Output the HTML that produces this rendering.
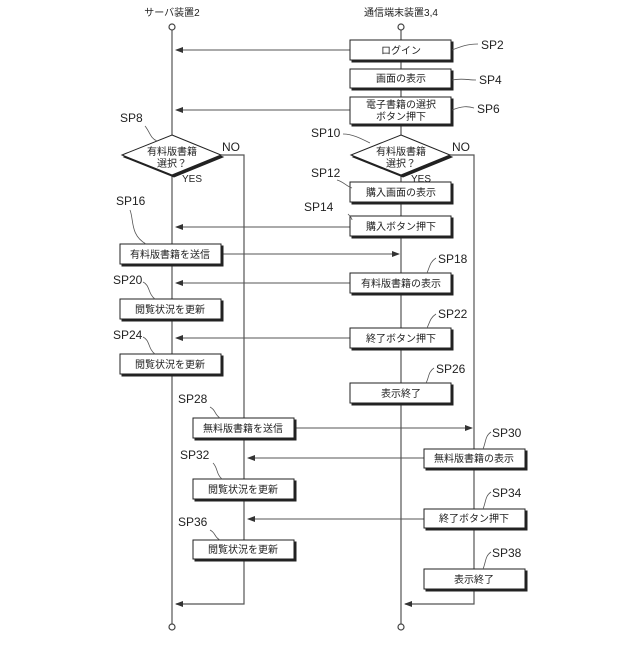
<!DOCTYPE html>
<html><head><meta charset="utf-8"><style>
body{margin:0;background:#fff}
svg text{font-family:"Liberation Sans","Noto Sans CJK JP",sans-serif;fill:#222}
</style></head><body>
<svg width="640" height="640" viewBox="0 0 640 640" xmlns="http://www.w3.org/2000/svg">
<defs>
<marker id="a" markerWidth="8" markerHeight="6" refX="7" refY="3" orient="auto" markerUnits="userSpaceOnUse"><path d="M0,0 L8,3 L0,6 z" fill="#333"/></marker>
</defs>
<g stroke="#555" stroke-width="1.2" fill="none">
<line x1="172" y1="30" x2="172" y2="624"/>
<line x1="401" y1="30" x2="401" y2="624"/>
<polyline points="221,155 244,155 244,604 176,604" marker-end="url(#a)"/>
<polyline points="450,155 474,155 474,604 405,604" marker-end="url(#a)"/>
</g>
<g stroke="#555" stroke-width="1" fill="none" marker-end="url(#a)">
<line x1="350" y1="50" x2="176" y2="50"/>
<line x1="350" y1="110" x2="176" y2="110"/>
<line x1="350" y1="227" x2="176" y2="227"/>
<line x1="222" y1="254" x2="399" y2="254"/>
<line x1="350" y1="283" x2="176" y2="283"/>
<line x1="350" y1="338" x2="176" y2="338"/>
<line x1="295" y1="428" x2="472" y2="428"/>
<line x1="424" y1="458" x2="248" y2="458"/>
<line x1="424" y1="519" x2="248" y2="519"/>
</g>
<g fill="#fff" stroke="#444" stroke-width="1.2">
<circle cx="172" cy="27" r="3"/><circle cx="401" cy="27" r="3"/>
<circle cx="172" cy="627" r="3"/><circle cx="401" cy="627" r="3"/>
</g>
<g stroke="#222" stroke-width="1" fill="#fff" style="filter:drop-shadow(2px 2px 0 #222)">
<rect x="350" y="40" width="101" height="20"/>
<rect x="350" y="69" width="101" height="19"/>
<rect x="350" y="97" width="101" height="27"/>
<polygon points="172,135 221,155 172,175 122,155"/>
<polygon points="401,135 450,155 401,175 351,155"/>
<rect x="350" y="182" width="101" height="20"/>
<rect x="350" y="216" width="101" height="20"/>
<rect x="120" y="244" width="101" height="20"/>
<rect x="350" y="273" width="101" height="20"/>
<rect x="120" y="299" width="101" height="20"/>
<rect x="350" y="328" width="101" height="20"/>
<rect x="120" y="354" width="101" height="20"/>
<rect x="350" y="383" width="101" height="20"/>
<rect x="193" y="418" width="101" height="20"/>
<rect x="424" y="449" width="101" height="19"/>
<rect x="193" y="479" width="101" height="20"/>
<rect x="424" y="509" width="101" height="19"/>
<rect x="193" y="540" width="101" height="19"/>
<rect x="424" y="569" width="101" height="20"/>
</g>
<g font-size="10" text-anchor="middle">
<text x="172" y="16">サーバ装置2</text>
<text x="401" y="16">通信端末装置3,4</text>
<text x="401" y="54">ログイン</text>
<text x="401" y="82">画面の表示</text>
<text x="401" y="108">電子書籍の選択</text>
<text x="401" y="120">ボタン押下</text>
<text x="172" y="155">有料版書籍</text>
<text x="172" y="167">選択？</text>
<text x="401" y="155">有料版書籍</text>
<text x="401" y="167">選択？</text>
<text x="401" y="196">購入画面の表示</text>
<text x="401" y="230">購入ボタン押下</text>
<text x="170" y="258">有料版書籍を送信</text>
<text x="401" y="287">有料版書籍の表示</text>
<text x="170" y="313">閲覧状況を更新</text>
<text x="401" y="342">終了ボタン押下</text>
<text x="170" y="368">閲覧状況を更新</text>
<text x="401" y="397">表示終了</text>
<text x="243" y="432">無料版書籍を送信</text>
<text x="474" y="462">無料版書籍の表示</text>
<text x="243" y="493">閲覧状況を更新</text>
<text x="474" y="522">終了ボタン押下</text>
<text x="243" y="553">閲覧状況を更新</text>
<text x="474" y="583">表示終了</text>
</g>
<g font-size="12">
<text x="481" y="49">SP2</text><text x="479" y="84">SP4</text><text x="477" y="113">SP6</text>
<text x="120" y="122">SP8</text><text x="311" y="137">SP10</text>
<text x="222" y="151">NO</text><text x="452" y="151">NO</text>
<text x="311" y="177">SP12</text><text x="304" y="211">SP14</text>
<text x="116" y="205">SP16</text><text x="438" y="263">SP18</text>
<text x="113" y="284">SP20</text><text x="438" y="318">SP22</text>
<text x="113" y="339">SP24</text><text x="436" y="373">SP26</text>
<text x="178" y="403">SP28</text><text x="492" y="437">SP30</text>
<text x="180" y="459">SP32</text><text x="492" y="497">SP34</text>
<text x="178" y="526">SP36</text><text x="492" y="557">SP38</text>
</g>
<g font-size="10"><text x="182" y="182">YES</text><text x="411" y="182">YES</text></g>
<g stroke="#555" stroke-width="0.8" fill="none">
<path d="M452,50 C462,46 468,44 478,44"/>
<path d="M452,80 C462,78 468,80 476,80"/>
<path d="M452,110 C462,106 468,106 474,108"/>
<path d="M145,126 C150,132 150,138 157,141"/>
<path d="M343,134 C352,134 360,138 370,143"/>
<path d="M337,180 C344,182 346,186 352,188"/>
<path d="M348,214 C350,216 352,218 352,220"/>
<path d="M130,210 C134,220 130,235 146,244"/>
<path d="M143,282 C150,285 148,294 155,299"/>
<path d="M143,337 C150,340 148,349 155,354"/>
<path d="M210,407 C216,410 214,414 220,418"/>
<path d="M213,463 C218,468 216,474 222,479"/>
<path d="M210,530 C216,533 214,537 220,540"/>
<path d="M436,258 C430,262 430,266 427,273"/>
<path d="M436,314 C430,318 430,322 427,328"/>
<path d="M434,368 C428,372 429,378 426,383"/>
<path d="M491,432 C485,436 486,442 483,449"/>
<path d="M491,492 C485,496 486,502 483,509"/>
<path d="M491,552 C485,556 486,562 483,569"/>
</g>
</svg>
</body></html>
